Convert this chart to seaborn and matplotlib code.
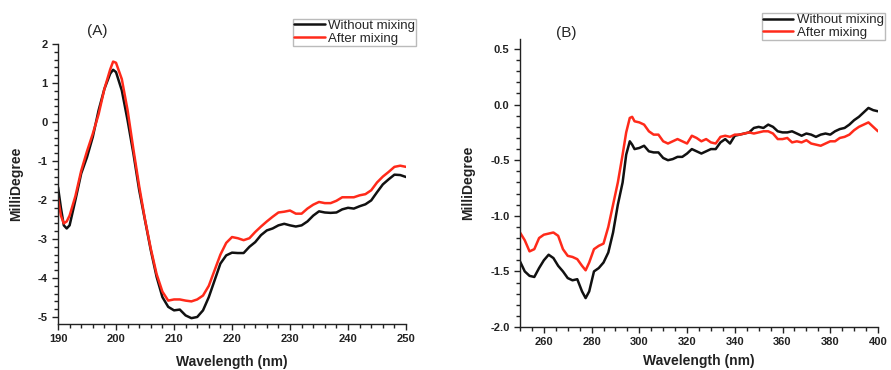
import numpy as np
import pandas as pd
import matplotlib
matplotlib.use("Agg")
import matplotlib.pyplot as plt
import seaborn as sns
from matplotlib.ticker import MultipleLocator

sns.set_theme(style="ticks")
plt.rcParams['font.family'] = ['Liberation Sans', 'DejaVu Sans']

# Panel A data
wl_a = [190, 190.5, 191, 191.5, 192, 193, 194, 195, 196, 197, 198, 199, 199.5, 200, 201, 202, 203, 204,
        205, 206, 207, 208, 209, 210, 211, 212, 213, 214, 215, 216, 217, 218, 219, 220, 221, 222, 223,
        224, 225, 226, 227, 228, 229, 230, 231, 232, 233, 234, 235, 236, 237, 238, 239, 240, 241, 242,
        243, 244, 245, 246, 247, 248, 249, 250]
a_without = [-1.67, -2.2, -2.65, -2.73, -2.65, -2.0, -1.32, -0.9, -0.38, 0.3, 0.85, 1.24, 1.34, 1.28,
             0.81, 0.04, -0.81, -1.75, -2.52, -3.29, -3.97, -4.49, -4.74, -4.83, -4.81, -4.96, -5.03,
             -5.0, -4.83, -4.49, -4.06, -3.63, -3.42, -3.35, -3.36, -3.36, -3.2, -3.08, -2.9, -2.78,
             -2.73, -2.65, -2.61, -2.65, -2.68, -2.65, -2.55, -2.4, -2.29, -2.32, -2.33, -2.32, -2.24,
             -2.2, -2.22, -2.16, -2.11, -2.01, -1.8, -1.6, -1.47, -1.35, -1.36, -1.41]
a_after = [-1.95, -2.4, -2.6, -2.55, -2.4, -1.9, -1.25, -0.75, -0.3, 0.2, 0.85, 1.35, 1.55, 1.52, 1.1,
           0.3, -0.7, -1.65, -2.5, -3.25, -3.9, -4.35, -4.58, -4.55, -4.55, -4.58, -4.6, -4.55, -4.45,
           -4.2, -3.8, -3.4, -3.1, -2.95, -2.98, -3.03, -2.98, -2.82, -2.68, -2.55, -2.43, -2.32, -2.3,
           -2.27, -2.35, -2.35, -2.22, -2.12, -2.05, -2.08, -2.08, -2.02, -1.93, -1.93, -1.93, -1.88,
           -1.85, -1.75, -1.55, -1.4, -1.28, -1.15, -1.12, -1.15]

# Panel B data
wl_b = [250, 252, 254, 256, 258, 260, 262, 264, 266, 268, 270, 272, 274, 276, 277.5, 279, 281, 283, 285,
        287, 289, 291, 293, 294.5, 296, 297, 298, 300, 302, 304, 306, 308, 310, 312, 314, 316, 318, 320,
        322, 324, 326, 328, 330, 332, 334, 336, 338, 340, 342, 344, 346, 348, 350, 352, 354, 356, 358,
        360, 362, 364, 366, 368, 370, 372, 374, 376, 378, 380, 382, 384, 386, 388, 390, 392, 394, 396,
        398, 400]
b_without = [-1.41, -1.5, -1.54, -1.55, -1.47, -1.4, -1.35, -1.38, -1.45, -1.5, -1.56, -1.58, -1.57,
             -1.68, -1.74, -1.68, -1.5, -1.47, -1.42, -1.33, -1.15, -0.9, -0.7, -0.45, -0.33, -0.36,
             -0.4, -0.39, -0.37, -0.42, -0.43, -0.43, -0.48, -0.5, -0.49, -0.47, -0.47, -0.44, -0.4,
             -0.42, -0.44, -0.42, -0.4, -0.4, -0.34, -0.31, -0.35, -0.28, -0.27, -0.26, -0.25, -0.21,
             -0.2, -0.21, -0.18, -0.2, -0.24, -0.25, -0.25, -0.24, -0.26, -0.28, -0.26, -0.27, -0.29,
             -0.27, -0.26, -0.27, -0.24, -0.22, -0.21, -0.18, -0.14, -0.11, -0.07, -0.03, -0.05, -0.06]
b_after = [-1.15, -1.22, -1.32, -1.3, -1.2, -1.17, -1.16, -1.15, -1.18, -1.3, -1.36, -1.37, -1.39, -1.45,
           -1.49, -1.42, -1.3, -1.27, -1.25, -1.1, -0.9, -0.7, -0.45, -0.25, -0.12, -0.11, -0.15, -0.16,
           -0.18, -0.24, -0.27, -0.27, -0.33, -0.35, -0.33, -0.31, -0.33, -0.35, -0.28, -0.3, -0.33,
           -0.31, -0.34, -0.35, -0.29, -0.28, -0.29, -0.27, -0.27, -0.26, -0.25, -0.26, -0.25, -0.24,
           -0.24, -0.26, -0.31, -0.31, -0.3, -0.34, -0.33, -0.34, -0.32, -0.35, -0.36, -0.37, -0.35,
           -0.33, -0.33, -0.3, -0.29, -0.27, -0.23, -0.2, -0.18, -0.16, -0.2, -0.24]

series_names = ["Without mixing", "After mixing"]
colors = ["#111111", "#ff2a1a"]

fig = plt.figure(figsize=(8.91, 3.70), dpi=100)
axA = fig.add_axes([0.0651, 0.1243, 0.3906, 0.7567])
axB = fig.add_axes([0.5836, 0.1162, 0.4018, 0.7784])

def draw(ax, x, ys):
    for name, y, c in zip(series_names, ys, colors):
        df = pd.DataFrame({"Wavelength": x, "MilliDegree": y})
        sns.lineplot(data=df, x="Wavelength", y="MilliDegree", ax=ax, color=c, lw=1.8, label=name,
                     legend=False)
    for s in ["top", "right"]:
        ax.spines[s].set_visible(False)
    for s in ["left", "bottom"]:
        ax.spines[s].set_linewidth(1.0)
        ax.spines[s].set_color("#222222")
    ax.set_xlabel("Wavelength (nm)", fontsize=10, fontweight="bold", color="#222222")
    ax.set_ylabel("MilliDegree", fontsize=10, fontweight="bold", color="#222222")

def finish_ticks(ax):
    ax.minorticks_on()
    ax.tick_params(which="major", direction="out", length=4.5, width=1, labelsize=8, pad=3,
                   color="#222222", labelcolor="#222222")
    ax.tick_params(which="minor", direction="out", length=3, width=1, color="#222222")
    for lab in ax.get_xticklabels() + ax.get_yticklabels():
        lab.set_fontweight("bold")

draw(axA, wl_a, [a_without, a_after])
axA.set_xlim(190, 250)
axA.set_ylim(-5.18, 2.0)
axA.set_xticks(np.arange(190, 251, 10))
axA.set_xticklabels([str(v) for v in range(190, 251, 10)])
axA.set_yticks(np.arange(-5, 2.1, 1))
axA.set_yticklabels([str(v) for v in range(-5, 3)])
axA.xaxis.set_minor_locator(MultipleLocator(5))
axA.yaxis.set_minor_locator(MultipleLocator(0.5))
finish_ticks(axA)
axA.xaxis.set_label_coords(0.5, -0.11)
axA.yaxis.set_label_coords(-0.10, 0.5)

draw(axB, wl_b, [b_without, b_after])
axB.set_xlim(250, 400)
axB.set_ylim(-2.0, 0.59)
axB.set_xticks(np.arange(260, 401, 20))
axB.set_xticklabels([str(v) for v in range(260, 401, 20)])
yt = [-2.0, -1.5, -1.0, -0.5, 0.0, 0.5]
axB.set_yticks(yt)
axB.set_yticklabels([f"{v:.1f}" for v in yt])
axB.xaxis.set_minor_locator(MultipleLocator(10))
axB.yaxis.set_minor_locator(MultipleLocator(0.25))
finish_ticks(axB)
axB.xaxis.set_label_coords(0.5, -0.095)
axB.yaxis.set_label_coords(-0.125, 0.5)

fig.text(0.098, 0.905, "(A)", fontsize=11)
fig.text(0.624, 0.9, "(B)", fontsize=11)

for ax, loc in [(axA, (0.329, 0.95)), (axB, (0.855, 0.966))]:
    h, l = ax.get_legend_handles_labels()
    leg = fig.legend(h, l, loc="upper left", bbox_to_anchor=loc, fontsize=9.5, frameon=True,
                     fancybox=False, edgecolor="#aaaaaa", handlelength=2.3, handletextpad=0.25,
                     borderpad=0.1, labelspacing=0.05, borderaxespad=0)
    leg.get_frame().set_linewidth(1.0)

fig.savefig("out.png", dpi=100)
